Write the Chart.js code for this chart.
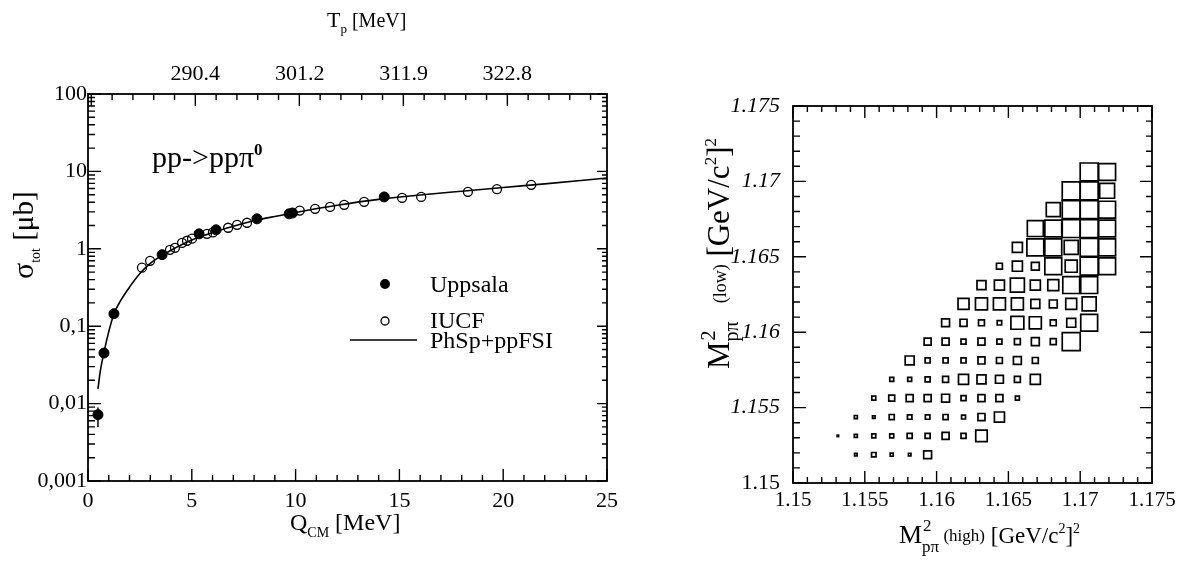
<!DOCTYPE html>
<html lang="en">
<head>
  <meta charset="UTF-8" />
  <title>pp -> pp pi0 cross section and Dalitz box plot</title>
  <style>
    body { margin: 0; background: #fff; }
    #wrap { position: relative; width: 1182px; height: 569px; }
    canvas { position: absolute; top: 0; }
  </style>
</head>
<body>
  <div id="wrap">
    <canvas id="xsec" width="650" height="569" style="left:0"></canvas>
    <canvas id="dalitz" width="532" height="569" style="left:650px"></canvas>
  </div>
  <script src="https://cdn.jsdelivr.net/npm/chart.js@4"></script>
  <script>
    // left panel: total cross section vs Q_CM
    const qTicks = [0, 5, 10, 15, 20, 25];
    const sigmaTicks = [0.001, 0.01, 0.1, 1, 10, 100];
    const sigmaTickLabels = ['0,001', '0,01', '0,1', '1', '10', '100'];
    const tpTickQ = [5.17, 10.2, 15.2, 20.2];
    const tpTickLabels = ['290.4', '301.2', '311.9', '322.8'];

    const uppsalaQ = [0.48, 0.77, 1.25, 3.57, 5.35, 6.17, 8.14, 9.69, 9.85, 14.27];
    const uppsalaSigma = [0.0072, 0.045, 0.145, 0.84, 1.56, 1.76, 2.44, 2.83, 2.9, 4.68];
    const errQ = [0.48];
    const errLow = [0.0050];
    const errHigh = [0.0089];

    const iucfQ = [2.60, 2.99, 3.95, 4.19, 4.53, 4.77, 5.01, 5.73, 6.02, 6.75, 7.18, 7.66, 10.2, 10.94, 11.66, 12.34, 13.3, 15.13, 16.05, 18.3, 19.7, 21.35];
    const iucfSigma = [0.57, 0.70, 0.97, 1.03, 1.19, 1.27, 1.35, 1.56, 1.63, 1.87, 2.04, 2.17, 3.12, 3.28, 3.48, 3.70, 4.04, 4.55, 4.68, 5.44, 5.9, 6.7];

    const fsiQ = [0.48, 0.6, 0.8, 1.0, 1.25, 1.6, 2.0, 2.5, 3.0, 3.5, 4.0, 5.0, 6.0, 7.0, 8.0, 9.0, 10.0, 12.0, 14.0, 16.0, 18.0, 20.0, 22.0, 25.0];
    const fsiSigma = [0.0155, 0.027, 0.05, 0.085, 0.145, 0.22, 0.32, 0.48, 0.65, 0.8, 0.96, 1.3, 1.62, 1.95, 2.3, 2.62, 2.95, 3.65, 4.35, 4.95, 5.55, 6.2, 6.9, 8.2];

    // right panel: M2(p pi) low vs high box plot
    const mTicks = [1.15, 1.155, 1.16, 1.165, 1.17, 1.175];
    const mTickLabels = ['1.15', '1.155', '1.16', '1.165', '1.17', '1.175'];
    const binWidth = 0.00125;
    const highBins = [1.150625, 1.151875, 1.153125, 1.154375, 1.155625, 1.156875, 1.158125, 1.159375, 1.160625, 1.161875,
                      1.163125, 1.164375, 1.165625, 1.166875, 1.168125, 1.169375, 1.170625, 1.171875, 1.173125, 1.174375];
    const lowRows = [1.151875, 1.153125, 1.154375, 1.155625, 1.156875, 1.158125, 1.159375, 1.160625,
                     1.161875, 1.163125, 1.164375, 1.165625, 1.166875, 1.168125, 1.169375, 1.170625];
    const rowFirstBin = [3, 2, 3, 4, 5, 6, 7, 8, 9, 10, 11, 12, 13, 14, 15, 16];
    const rowBoxSize = [
      [0.14, 0.25, 0.17, 0.14, 0.44],
      [0.08, 0.17, 0.22, 0.22, 0.28, 0.28, 0.39, 0.28, 0.64],
      [0.17, 0.14, 0.28, 0.25, 0.25, 0.28, 0.22, 0.39, 0.56],
      [0.22, 0.33, 0.39, 0.39, 0.44, 0.28, 0.39, 0.39, 0.22],
      [0.22, 0.22, 0.28, 0.33, 0.56, 0.5, 0.44, 0.33, 0.56],
      [0.5, 0.28, 0.28, 0.28, 0.39, 0.33, 0.44, 0.33],
      [0.39, 0.39, 0.28, 0.39, 0.28, 0.33, 0.44, 0.33, 1.0],
      [0.44, 0.39, 0.33, 0.25, 0.72, 0.67, 0.33, 0.5, 0.94],
      [0.61, 0.67, 0.67, 0.67, 0.5, 0.44, 0.61, 0.78],
      [0.5, 0.56, 0.78, 0.56, 0.61, 0.94, 0.94],
      [0.33, 0.56, 0.44, 0.94, 0.67, 1.0, 0.94],
      [0.56, 0.94, 0.94, 0.78, 1.0, 0.94],
      [0.89, 0.94, 1.0, 1.0, 0.94],
      [0.78, 1.0, 1.0, 0.94],
      [1.0, 1.0, 0.83],
      [1.0, 0.94]
    ];

    const serif = '"Liberation Serif", "DejaVu Serif", serif';
    const zip = (xs, ys) => xs.map((x, i) => ({ x, y: ys[i] }));

    // draws a run of text pieces with sub/superscript offsets; hold = don't advance (stack next piece)
    function richText(ctx, x, y, parts, angle) {
      ctx.save();
      ctx.translate(x, y);
      if (angle) ctx.rotate(angle);
      ctx.textAlign = 'left';
      ctx.textBaseline = 'alphabetic';
      ctx.fillStyle = '#000';
      let cx = 0;
      for (const p of parts) {
        ctx.font = `${p.style || 'normal'} ${p.size}px ${serif}`;
        const w = ctx.measureText(p.text).width;
        ctx.fillText(p.text, cx + (p.dx || 0), p.dy || 0);
        if (!p.hold) cx += (p.dx || 0) + w;
      }
      ctx.restore();
    }

    const xsecDecor = {
      id: 'xsecDecor',
      afterDatasetsDraw(chart) {
        const { ctx, chartArea: a, scales: { x, y } } = chart;
        ctx.save();
        ctx.strokeStyle = '#000';
        ctx.lineWidth = 1.8;
        ctx.strokeRect(a.left, a.top, a.right - a.left, a.bottom - a.top);

        ctx.lineWidth = 1.4;
        ctx.beginPath();
        // bottom ticks
        for (let q = qTicks[0]; q <= qTicks[qTicks.length - 1]; q++) {
          const px = x.getPixelForValue(q);
          const len = q % 5 === 0 ? 12 : 6;
          ctx.moveTo(px, a.bottom); ctx.lineTo(px, a.bottom - len);
        }
        // top ticks (T_p)
        const step = (tpTickQ[tpTickQ.length - 1] - tpTickQ[0]) / (5 * (tpTickQ.length - 1));
        for (let k = -5; k < 40; k++) {
          const q = tpTickQ[0] + k * step;
          if (q < 0.1 || q > 24.9) continue;
          const px = x.getPixelForValue(q);
          const len = k % 5 === 0 ? 12 : 6;
          ctx.moveTo(px, a.top); ctx.lineTo(px, a.top + len);
        }
        // log ticks left / right
        for (let d = 0; d < sigmaTicks.length; d++) {
          const dec = sigmaTicks[d];
          for (let m = 1; m <= 9; m++) {
            const v = dec * m;
            if (v > sigmaTicks[sigmaTicks.length - 1] * 1.0001) break;
            const py = y.getPixelForValue(v);
            const major = m === 1;
            ctx.moveTo(a.left, py); ctx.lineTo(a.left + (major ? 13 : 7), py);
            ctx.moveTo(a.right, py); ctx.lineTo(a.right - (major ? 10 : 5), py);
          }
        }
        ctx.stroke();

        // error bars
        ctx.lineWidth = 1.5;
        ctx.beginPath();
        errQ.forEach((q, i) => {
          const px = x.getPixelForValue(q);
          ctx.moveTo(px, y.getPixelForValue(errLow[i]));
          ctx.lineTo(px, y.getPixelForValue(errHigh[i]));
        });
        ctx.stroke();

        // legend
        ctx.fillStyle = '#000';
        ctx.beginPath(); ctx.arc(385, 284, 5, 0, Math.PI * 2); ctx.fill();
        ctx.lineWidth = 1.3;
        ctx.beginPath(); ctx.arc(385, 321, 4, 0, Math.PI * 2); ctx.stroke();
        ctx.lineWidth = 1.6;
        ctx.beginPath(); ctx.moveTo(350, 340); ctx.lineTo(417, 340); ctx.stroke();
        ctx.font = `24px ${serif}`;
        ctx.textBaseline = 'alphabetic';
        ctx.fillText('Uppsala', 430, 292);
        ctx.fillText('IUCF', 430, 328);
        ctx.fillText('PhSp+ppFSI', 430, 348);
        ctx.restore();

        // reaction label and axis titles
        richText(ctx, 152, 167, [
          { text: 'pp->pp\u03C0', size: 30 },
          { text: '0', size: 17, dy: -12, style: 'bold' }
        ]);
        richText(ctx, 290, 530, [
          { text: 'Q', size: 24 },
          { text: 'CM', size: 14, dy: 7 },
          { text: ' [MeV]', size: 24 }
        ]);
        richText(ctx, 327, 27, [
          { text: 'T', size: 22 },
          { text: 'p', size: 13, dy: 6 },
          { text: ' [MeV]', size: 20 }
        ]);
        richText(ctx, 33, 279, [
          { text: '\u03C3', size: 30 },
          { text: 'tot', size: 14, dy: 7 },
          { text: ' [\u03BCb]', size: 29 }
        ], -Math.PI / 2);
      }
    };

    new Chart(document.getElementById('xsec'), {
      type: 'scatter',
      data: {
        datasets: [
          {
            label: 'PhSp+ppFSI',
            data: zip(fsiQ, fsiSigma),
            showLine: true,
            borderColor: '#000',
            borderWidth: 1.6,
            pointRadius: 0,
            cubicInterpolationMode: 'monotone'
          },
          {
            label: 'IUCF',
            data: zip(iucfQ, iucfSigma),
            pointRadius: 4.5,
            borderWidth: 1.3,
            borderColor: '#000',
            backgroundColor: 'rgba(0,0,0,0)'
          },
          {
            label: 'Uppsala',
            data: zip(uppsalaQ, uppsalaSigma),
            pointRadius: 5,
            borderWidth: 1,
            borderColor: '#000',
            backgroundColor: '#000'
          }
        ]
      },
      options: {
        responsive: false,
        animation: false,
        devicePixelRatio: 1,
        layout: { padding: { left: 0, right: 43, top: 0, bottom: 0 } },
        plugins: { legend: { display: false }, tooltip: { enabled: false } },
        scales: {
          x: {
            type: 'linear', position: 'bottom', min: 0, max: 25,
            grid: { display: false, drawTicks: false }, border: { display: false },
            afterBuildTicks: (s) => { s.ticks = qTicks.map(v => ({ value: v })); },
            afterFit: (s) => { s.height = 88; },
            ticks: { color: '#000', padding: 7, autoSkip: false, maxRotation: 0, font: { family: serif, size: 22 } }
          },
          x2: {
            type: 'linear', position: 'top', min: 0, max: 25,
            grid: { display: false, drawTicks: false }, border: { display: false },
            afterBuildTicks: (s) => { s.ticks = tpTickQ.map(v => ({ value: v })); },
            afterFit: (s) => { s.height = 94; },
            ticks: { color: '#000', padding: 7, autoSkip: false, maxRotation: 0, font: { family: serif, size: 22 },
                     callback: (v, i) => tpTickLabels[i] }
          },
          y: {
            type: 'logarithmic', min: 0.001, max: 100,
            grid: { display: false, drawTicks: false }, border: { display: false },
            afterBuildTicks: (s) => { s.ticks = sigmaTicks.map(v => ({ value: v })); },
            afterFit: (s) => { s.width = 88; },
            ticks: { color: '#000', padding: 1, autoSkip: false, font: { family: serif, size: 22 },
                     callback: (v, i) => sigmaTickLabels[i] }
          }
        }
      },
      plugins: [xsecDecor]
    });

    // box plot points, one per filled bin
    const boxes = [];
    rowBoxSize.forEach((sizes, r) => {
      sizes.forEach((s, k) => {
        boxes.push({ x: highBins[rowFirstBin[r] + k], y: lowRows[r], s });
      });
    });

    const dalitzDecor = {
      id: 'dalitzDecor',
      afterDatasetsDraw(chart) {
        const { ctx, chartArea: a, scales: { x, y } } = chart;
        ctx.save();
        ctx.strokeStyle = '#000';
        ctx.lineWidth = 1.8;
        ctx.strokeRect(a.left, a.top, a.right - a.left, a.bottom - a.top);
        ctx.lineWidth = 1.4;
        ctx.beginPath();
        const lo = mTicks[0];
        for (let k = 0; k <= 25; k++) {
          const v = lo + k * 0.001;
          const major = k % 5 === 0;
          const px = x.getPixelForValue(v);
          const py = y.getPixelForValue(v);
          ctx.moveTo(px, a.bottom); ctx.lineTo(px, a.bottom - (major ? 12 : 6));
          ctx.moveTo(px, a.top); ctx.lineTo(px, a.top + (major ? 12 : 6));
          ctx.moveTo(a.left, py); ctx.lineTo(a.left + (major ? 13 : 7), py);
          ctx.moveTo(a.right, py); ctx.lineTo(a.right - (major ? 12 : 6), py);
        }
        ctx.stroke();
        ctx.restore();

        richText(ctx, 249, 543, [
          { text: 'M', size: 26 },
          { text: '2', size: 17, dy: -12, dx: 1, hold: true },
          { text: 'p\u03C0', size: 17, dy: 9 },
          { text: ' (high)', size: 17, dy: -2 },
          { text: ' [GeV/c', size: 23 },
          { text: '2', size: 14, dy: -10 },
          { text: ']', size: 23 },
          { text: '2', size: 14, dy: -10 }
        ]);
        richText(ctx, 79, 369, [
          { text: 'M', size: 31 },
          { text: '2', size: 20, dy: -14, dx: 1, hold: true },
          { text: 'p\u03C0', size: 20, dy: 9 },
          { text: '    (low)', size: 18, dy: -3 },
          { text: ' [GeV/c', size: 31 },
          { text: '2', size: 17, dy: -13 },
          { text: ']', size: 31 },
          { text: '2', size: 17, dy: -13 }
        ], -Math.PI / 2);
      }
    };

    new Chart(document.getElementById('dalitz'), {
      type: 'scatter',
      data: {
        datasets: [{
          label: 'events',
          data: boxes,
          pointStyle: 'rect',
          borderColor: '#000',
          borderWidth: 1.7,
          backgroundColor: 'rgba(0,0,0,0)',
          radius: (c) => {
            const s = c.chart.scales.x;
            const binPx = Math.abs(s.getPixelForValue(mTicks[0] + binWidth) - s.getPixelForValue(mTicks[0]));
            return (c.raw ? c.raw.s : 0) * binPx / Math.SQRT2;
          }
        }]
      },
      options: {
        responsive: false,
        animation: false,
        devicePixelRatio: 1,
        layout: { padding: { left: 0, right: 30, top: 106, bottom: 0 } },
        plugins: { legend: { display: false }, tooltip: { enabled: false } },
        scales: {
          x: {
            type: 'linear', min: 1.15, max: 1.175,
            grid: { display: false, drawTicks: false }, border: { display: false },
            afterBuildTicks: (s) => { s.ticks = mTicks.map(v => ({ value: v })); },
            afterFit: (s) => { s.height = 86; },
            ticks: { color: '#000', padding: 5, autoSkip: false, maxRotation: 0, font: { family: serif, size: 21 },
                     callback: (v, i) => mTickLabels[i] }
          },
          y: {
            type: 'linear', min: 1.15, max: 1.175,
            grid: { display: false, drawTicks: false }, border: { display: false },
            afterBuildTicks: (s) => { s.ticks = mTicks.map(v => ({ value: v })); },
            afterFit: (s) => { s.width = 143; },
            ticks: { color: '#000', padding: 13, autoSkip: false, callback: (v, i) => mTickLabels[i],
                     font: (c) => ({ family: serif, size: 22, style: c.tick && c.tick.value === 1.15 ? 'normal' : 'italic' }) }
          }
        }
      },
      plugins: [dalitzDecor]
    });
  </script>
</body>
</html>
